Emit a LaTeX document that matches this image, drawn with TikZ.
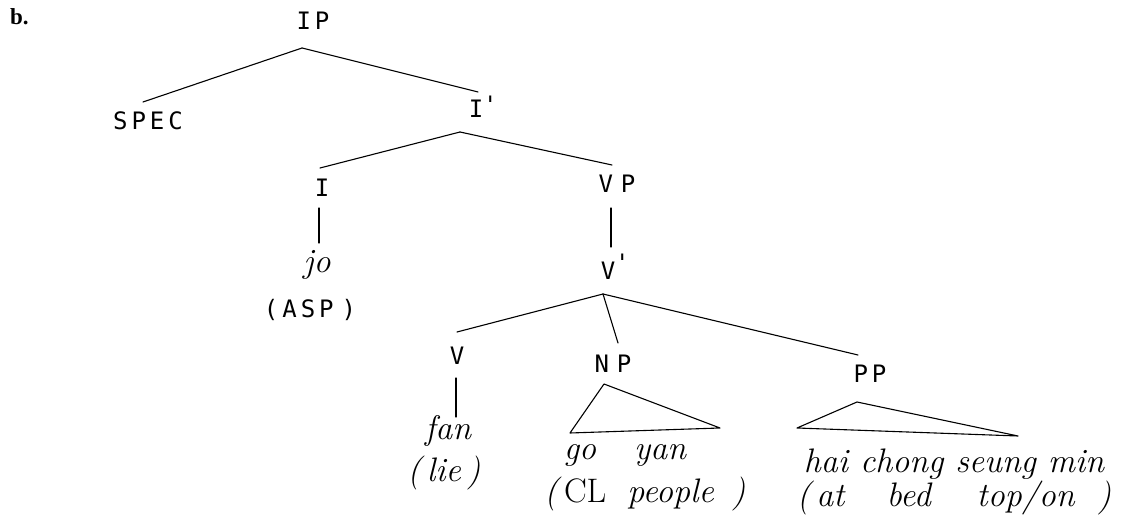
\documentclass[tikz,border=0pt]{standalone}
\usepackage{fontspec}
\newfontfamily\catfont{DejaVu Sans Mono}
\newfontfamily\labfont{Liberation Serif}
\begin{document}
\begin{tikzpicture}[x=1pt,y=-1pt,
  cat/.style={font=\catfont\fontsize{24}{28}\selectfont, inner sep=0pt, anchor=base},
  word/.style={font=\fontsize{34}{40}\selectfont\itshape, inner sep=0pt, anchor=base},
  branch/.style={line width=1.1pt, line cap=round, line join=round},
]
\useasboundingbox (0,0) rectangle (1133,518);
\fill[white] (0,0) rectangle (1133,518);
% labels
\node[font=\labfont\bfseries\fontsize{23}{28}\selectfont, inner sep=0pt, anchor=base west] (b) at (10,25) {b.};
\node[cat] (IP) at (313,30) {I\,P};
\node[cat] (SPEC) at (148,130) {S\,P\,E\,C};
\node[cat] (Ibar) at (476,118) {I\rlap{\raisebox{4pt}{'}}};
\node[cat] (I) at (322,197) {I};
\node[cat] (VP) at (617,193) {V\,\,P};
\node[word] (jo) at (317,273) {jo};
\node[cat] (ASP) at (310,318) {(\,A\,S\,P\,\,)};
\node[cat] (Vbar) at (608,280) {V\rlap{\raisebox{8pt}{'}}};
\node[cat] (V) at (457,365) {V};
\node[cat] (NP) at (613,373) {N\,\,P};
\node[cat] (PP) at (870,383) {P\,P};
\node[word] (fan) at (448,440) {fan};
\node[word] (lie) at (444,482) {(\hspace{6pt}lie\hspace{6pt})};
\node[word] (goyan) at (625,460) {go\hspace{38pt}yan};
\node[word] (CL) at (645,503) {(\hspace{6pt}{\upshape CL}\hspace{21pt}people\hspace{18pt})};
\node[word] (hai) at (954,472) {hai chong seung min};
\node[word] (at) at (954,507) {(\hspace{6pt}at\hspace{42pt}bed\hspace{46pt}top/on\hspace{23pt})};
% branches
\draw[branch] ([shift={(-11,18)}]IP.base) -- ([shift={(-5,-28)}]SPEC.base);
\draw[branch] ([shift={(-11,18)}]IP.base) -- ([shift={(2,-26)}]Ibar.base);
\draw[branch] ([shift={(-16,14)}]Ibar.base) -- ([shift={(-2,-29)}]I.base);
\draw[branch] ([shift={(-16,14)}]Ibar.base) -- ([shift={(-5,-28)}]VP.base);
\draw[branch] ([shift={(-3,11)}]I.base) -- ([shift={(2,-30)}]jo.base);
\draw[branch] ([shift={(-6,15)}]VP.base) -- ([shift={(3,-33)}]Vbar.base);
\draw[branch] ([shift={(-5,14)}]Vbar.base) -- ([shift={(0,-33)}]V.base);
\draw[branch] ([shift={(-5,14)}]Vbar.base) -- ([shift={(5,-30)}]NP.base);
\draw[branch] ([shift={(-5,14)}]Vbar.base) -- ([shift={(-12,-28)}]PP.base);
\draw[branch] ([shift={(-1,13)}]V.base) -- ([shift={(8,-23)}]fan.base);
\draw[branch] ([shift={(-9,11)}]NP.base) -- ([shift={(-55,-27)}]goyan.base) -- ([shift={(95,-32)}]goyan.base) -- cycle;
\draw[branch] ([shift={(-13,19)}]PP.base) -- ([shift={(-157,-44)}]hai.base) -- ([shift={(64,-36)}]hai.base) -- cycle;
\end{tikzpicture}
\end{document}
